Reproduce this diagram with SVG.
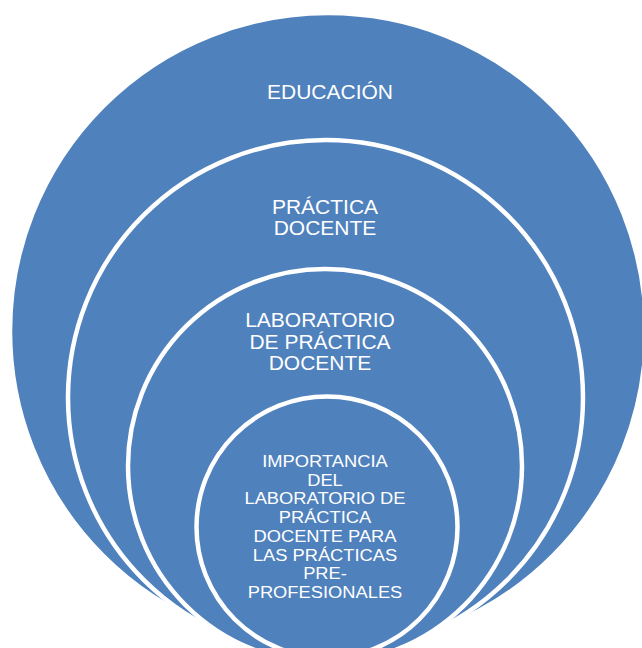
<svg xmlns="http://www.w3.org/2000/svg" width="642" height="648" viewBox="0 0 642 648">
<style>
.c{fill:#4F81BD;stroke:#FFFFFF;stroke-width:4.5}
.t{fill:#FFFFFF;font-family:"Liberation Sans",Arial,sans-serif;text-anchor:middle}
.big{font-size:20px}
.small{font-size:16.5px}
</style>
<rect width="642" height="648" fill="#FFFFFF"/>
<g id="n1">
<circle class="c" cx="328" cy="331" r="318"/>
<g transform="translate(330 0) scale(1.05 1)">
<text class="t big" x="0" y="99">EDUCACIÓN</text>
</g>
</g>
<g id="n2">
<circle class="c" cx="325.5" cy="397.5" r="257.5"/>
<g transform="translate(325 0) scale(1.05 1)">
<text class="t big" x="0" y="214">PRÁCTICA</text>
<text class="t big" x="0" y="235">DOCENTE</text>
</g>
</g>
<g id="n3">
<circle class="c" cx="325" cy="466" r="197"/>
<g transform="translate(320 0) scale(1.05 1)">
<text class="t big" x="0" y="327">LABORATORIO</text>
<text class="t big" x="0" y="349">DE PRÁCTICA</text>
<text class="t big" x="0" y="370">DOCENTE</text>
</g>
</g>
<g id="n4">
<circle class="c" cx="327" cy="527" r="130.5"/>
<g transform="translate(325 0) scale(1.11 1)">
<text class="t small" x="0" y="467">IMPORTANCIA</text>
<text class="t small" x="0" y="486">DEL</text>
<text class="t small" x="0" y="504">LABORATORIO DE</text>
<text class="t small" x="0" y="523">PRÁCTICA</text>
<text class="t small" x="0" y="542">DOCENTE PARA</text>
<text class="t small" x="0" y="561">LAS PRÁCTICAS</text>
<text class="t small" x="0" y="579">PRE-</text>
<text class="t small" x="0" y="598">PROFESIONALES</text>
</g>
</g>
<g id="connectors"/>
</svg>
